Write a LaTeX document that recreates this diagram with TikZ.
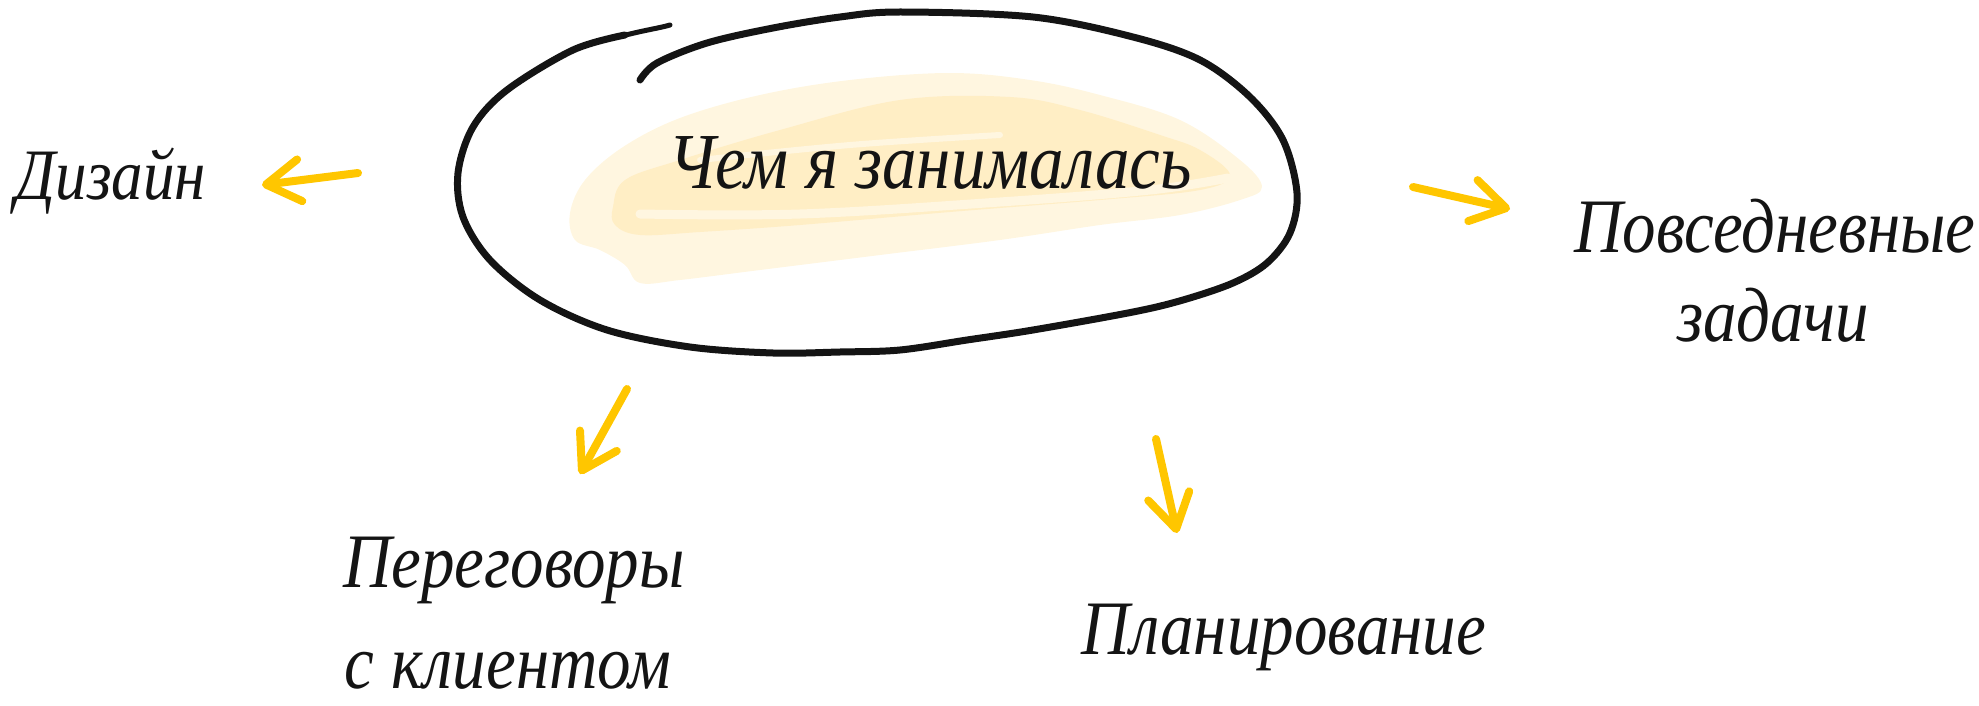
\documentclass[tikz,border=0pt]{standalone}
\usepackage{fontspec}
\setmainfont{Liberation Serif}
\usetikzlibrary{arrows.meta}
\definecolor{arrowyellow}{HTML}{FFC600}
\definecolor{hlouter}{HTML}{FFF6E0}
\definecolor{hlinner}{HTML}{FFEEC5}
\definecolor{inkblack}{HTML}{141414}
\newcommand{\handtext}[2]{\scalebox{1}[1.15]{\fontsize{#1}{#1}\selectfont #2}}
\tikzset{
  label/.style={font=\itshape, text=inkblack, inner sep=0pt, anchor=base},
  ring/.style={draw=inkblack, line width=7pt, line cap=round, line join=round},
  yarrow/.style={draw=arrowyellow, line width=8pt, line cap=round, line join=round,
    -{Straight Barb[length=34pt,width=42pt,round]}}
}
\begin{document}
\begin{tikzpicture}[x=1pt,y=-1pt]
\useasboundingbox (0,0) rectangle (1979,706);
% highlight
\fill[hlouter] plot[smooth cycle, tension=0.6] coordinates {
  (570,213) (585,180) (623,147) (680,118) (760,95) (850,80) (950,73) (1030,80) (1100,95)
  (1180,120) (1240,160) (1262,187) (1240,200) (1180,215) (1100,225) (1000,240) (880,255)
  (760,270) (680,280) (640,283) (625,265) (600,250) (575,240)};
\fill[hlinner] plot[smooth cycle, tension=0.6] coordinates {
  (613,207) (625,180) (680,160) (780,130) (900,100) (1010,97) (1080,110) (1160,135)
  (1200,150) (1230,175) (1200,190) (1100,200) (950,212) (800,225) (700,232) (640,235) (615,225)};
\draw[hlouter, line width=9pt, line cap=round] plot[smooth, tension=0.6] coordinates {
  (640,214) (800,214) (1000,202) (1150,190) (1228,178)};
\draw[hlouter, line width=6pt, line cap=round] plot[smooth, tension=0.6] coordinates {
  (700,160) (850,145) (1000,135)};
% ring
\draw[ring] plot[smooth, tension=0.55] coordinates {
  (640,80) (657,63) (707,43) (773,28) (840,17) (900,12) (1033,17) (1133,37) (1200,60)
  (1250,97) (1283,140) (1297,193) (1290,233) (1267,263) (1233,283) (1183,300) (1133,312)
  (1033,330) (967,340) (900,350) (840,352) (773,353) (690,347) (607,330) (540,300)
  (490,260) (463,217) (458,173) (473,127) (507,90) (573,50) (625,35)};
\draw[inkblack, line width=5pt, line cap=round] (622,36) .. controls (645,30) and (660,28) .. (670,25);
% texts
\node[label] (center) at (930,189) {\handtext{69}{Чем я занималась}};
\node[label] (design) at (111,199) {\handtext{63}{Дизайн}};
\node[label] (daily1) at (1775,252) {\handtext{67}{Повседневные}};
\node[label] (daily2) at (1773,341) {\handtext{67}{задачи}};
\node[label] (nego1) at (514,587) {\handtext{67}{Переговоры}};
\node[label] (nego2) at (508,688) {\handtext{67}{с клиентом}};
\node[label] (plan) at (1284,654) {\handtext{67}{Планирование}};
% arrow ends
\coordinate (aLs) at (358,173); \coordinate (aLe) at (262,185);
\coordinate (aRs) at (1413,187); \coordinate (aRe) at (1510,209);
\coordinate (aDLs) at (627,389); \coordinate (aDLe) at (580,474);
\coordinate (aDRs) at (1156,439); \coordinate (aDRe) at (1177,533);
\draw[yarrow] (aLs) -- (aLe);
\draw[yarrow] (aRs) -- (aRe);
\draw[yarrow] (aDLs) -- (aDLe);
\draw[yarrow] (aDRs) -- (aDRe);
\end{tikzpicture}
\end{document}
